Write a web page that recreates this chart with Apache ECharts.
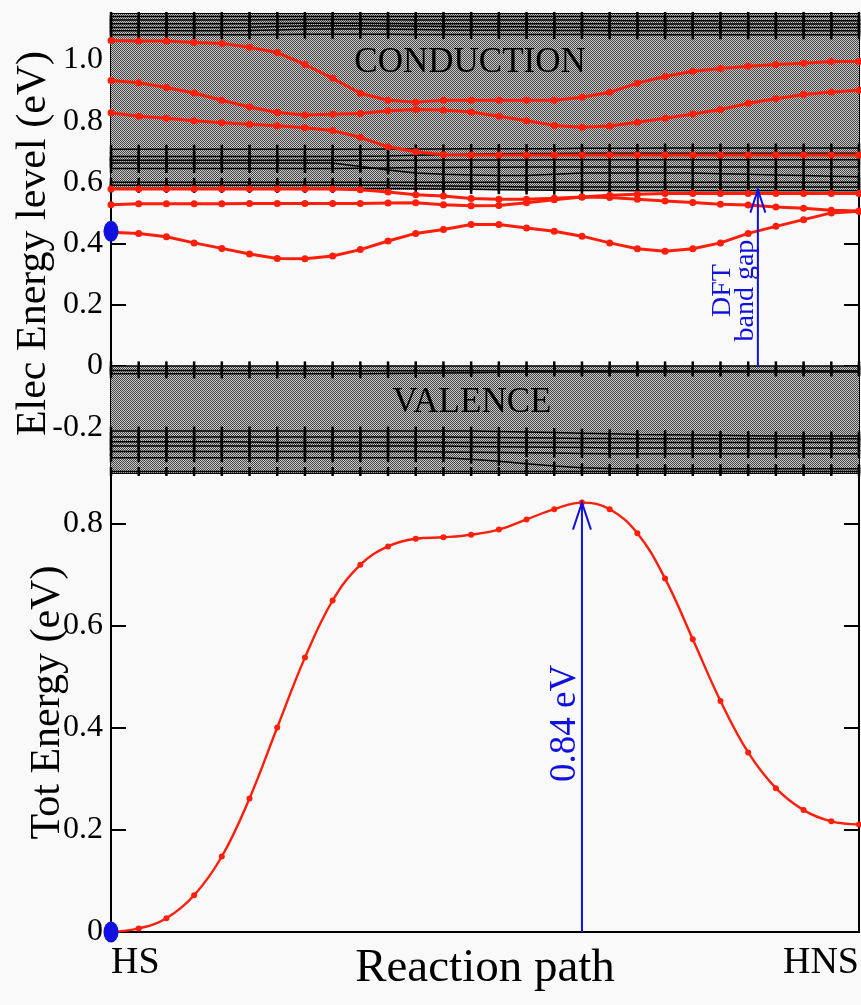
<!DOCTYPE html>
<html>
<head>
<meta charset="utf-8">
<script src="https://cdn.jsdelivr.net/npm/echarts@6/dist/echarts.min.js"></script>
<style>
html,body{margin:0;padding:0;background:#f9f9f9;}
#chart{width:861px;height:1005px;}
</style>
</head>
<body>
<div id="chart"></div>
<script>
// ---------------- data ----------------
const pathIndex = [0,1,2,3,4,5,6,7,8,9,10,11,12,13,14,15,16,17,18,19,20,21,22,23,24,25,26,27];
const pathEnds = ['HS', 'HNS'];
const elecTicks = [-0.2, 0, 0.2, 0.4, 0.6, 0.8, 1.0];
const totTicks = [0, 0.2, 0.4, 0.6, 0.8];

// red (tracked) levels, top panel
const conduction1 = [1.063,1.062,1.062,1.057,1.054,1.041,1.024,0.985,0.940,0.891,0.868,0.862,0.868,0.868,0.868,0.868,0.868,0.878,0.894,0.924,0.946,0.963,0.972,0.979,0.985,0.989,0.995,0.995];
const conduction2 = [0.933,0.925,0.910,0.892,0.868,0.846,0.828,0.820,0.822,0.825,0.834,0.838,0.836,0.830,0.816,0.801,0.786,0.780,0.784,0.796,0.809,0.823,0.838,0.858,0.873,0.887,0.895,0.901];
const conduction3 = [0.827,0.816,0.809,0.801,0.795,0.790,0.785,0.778,0.769,0.747,0.716,0.700,0.690,0.689,0.689,0.689,0.689,0.689,0.689,0.689,0.689,0.689,0.689,0.689,0.689,0.689,0.689,0.689];
const gapUpper = [0.578,0.578,0.578,0.578,0.578,0.578,0.578,0.578,0.578,0.576,0.568,0.559,0.555,0.547,0.545,0.545,0.548,0.552,0.550,0.545,0.539,0.534,0.528,0.526,0.519,0.515,0.509,0.506];
const gapMiddle = [0.527,0.530,0.530,0.530,0.530,0.531,0.531,0.531,0.531,0.531,0.532,0.533,0.527,0.523,0.524,0.533,0.543,0.552,0.558,0.561,0.563,0.563,0.563,0.563,0.563,0.563,0.563,0.563];
const gapLower = [0.437,0.433,0.422,0.402,0.384,0.366,0.351,0.350,0.359,0.380,0.408,0.433,0.446,0.462,0.462,0.451,0.440,0.424,0.402,0.383,0.375,0.383,0.402,0.433,0.456,0.478,0.500,0.505];

// black (band) levels, top panel
const cbTop1 = [1.142,1.142,1.142,1.142,1.142,1.142,1.142,1.142,1.142,1.142,1.142,1.142,1.142,1.142,1.142,1.142,1.142,1.142,1.142,1.142,1.142,1.142,1.142,1.142,1.142,1.142,1.142,1.142];
const cbTop2 = [1.130,1.130,1.130,1.130,1.130,1.130,1.131,1.132,1.132,1.132,1.131,1.130,1.130,1.130,1.130,1.130,1.130,1.130,1.129,1.128,1.128,1.128,1.128,1.128,1.128,1.128,1.128,1.128];
const cbTop3 = [1.118,1.118,1.118,1.118,1.118,1.118,1.119,1.120,1.120,1.120,1.119,1.118,1.118,1.118,1.118,1.118,1.118,1.118,1.118,1.117,1.117,1.117,1.117,1.117,1.117,1.117,1.117,1.117];
const cbTop4 = [1.106,1.106,1.106,1.106,1.106,1.107,1.109,1.111,1.112,1.112,1.111,1.110,1.109,1.108,1.108,1.108,1.107,1.107,1.106,1.106,1.106,1.106,1.106,1.106,1.106,1.106,1.106,1.106];
const cbTop5 = [1.095,1.095,1.095,1.095,1.095,1.096,1.098,1.100,1.101,1.101,1.100,1.099,1.098,1.097,1.097,1.097,1.096,1.096,1.095,1.095,1.095,1.095,1.095,1.095,1.095,1.095,1.095,1.095];
const cbTop6 = [1.082,1.082,1.082,1.082,1.082,1.082,1.083,1.084,1.084,1.084,1.084,1.083,1.083,1.083,1.083,1.083,1.083,1.083,1.082,1.082,1.082,1.082,1.082,1.082,1.082,1.082,1.082,1.082];
const cbLow1 = [0.708,0.708,0.708,0.708,0.708,0.708,0.708,0.708,0.708,0.708,0.709,0.709,0.709,0.710,0.710,0.710,0.710,0.711,0.711,0.711,0.712,0.712,0.712,0.712,0.712,0.712,0.712,0.712];
const cbLow2 = [0.684,0.684,0.684,0.684,0.684,0.684,0.684,0.684,0.684,0.685,0.686,0.688,0.690,0.692,0.693,0.694,0.694,0.695,0.695,0.695,0.695,0.695,0.695,0.695,0.695,0.695,0.695,0.695];
const cbLow3 = [0.672,0.672,0.672,0.672,0.672,0.672,0.672,0.672,0.672,0.672,0.672,0.672,0.673,0.673,0.673,0.673,0.674,0.674,0.674,0.674,0.674,0.674,0.674,0.674,0.674,0.674,0.674,0.674];
const cbLow4 = [0.663,0.663,0.663,0.663,0.663,0.663,0.663,0.663,0.663,0.652,0.640,0.630,0.626,0.624,0.622,0.622,0.626,0.630,0.630,0.630,0.630,0.630,0.628,0.626,0.624,0.622,0.620,0.618];
const cbLow5 = [0.645,0.645,0.645,0.645,0.645,0.645,0.645,0.645,0.645,0.646,0.647,0.648,0.648,0.649,0.649,0.650,0.650,0.650,0.650,0.650,0.650,0.650,0.650,0.650,0.650,0.650,0.650,0.650];
const cbLow6 = [0.600,0.600,0.600,0.600,0.600,0.600,0.600,0.600,0.600,0.600,0.600,0.600,0.600,0.600,0.600,0.600,0.600,0.600,0.600,0.600,0.600,0.600,0.600,0.600,0.600,0.600,0.600,0.600];
const cbLow7 = [0.590,0.590,0.590,0.590,0.590,0.590,0.590,0.590,0.590,0.590,0.590,0.589,0.588,0.587,0.586,0.585,0.585,0.585,0.585,0.585,0.585,0.585,0.585,0.585,0.585,0.585,0.585,0.585];
const cbLow8 = [0.580,0.580,0.580,0.580,0.580,0.580,0.580,0.580,0.580,0.580,0.580,0.579,0.578,0.577,0.576,0.575,0.574,0.573,0.573,0.572,0.572,0.572,0.572,0.572,0.572,0.572,0.572,0.572];
const vb1 = [0.000,0.000,0.000,0.000,0.000,0.000,0.000,0.000,0.000,0.000,0.000,0.000,0.000,0.000,0.000,0.000,0.000,0.000,0.000,0.000,0.000,0.000,0.000,0.000,0.000,0.000,0.000,0.000];
const vb2 = [-0.015,-0.015,-0.015,-0.015,-0.015,-0.015,-0.015,-0.015,-0.015,-0.016,-0.016,-0.016,-0.016,-0.016,-0.016,-0.016,-0.016,-0.016,-0.016,-0.016,-0.016,-0.016,-0.016,-0.016,-0.016,-0.016,-0.016,-0.016];
const vb3 = [-0.026,-0.026,-0.026,-0.026,-0.026,-0.026,-0.026,-0.026,-0.026,-0.026,-0.025,-0.024,-0.023,-0.022,-0.021,-0.020,-0.020,-0.020,-0.020,-0.020,-0.020,-0.020,-0.020,-0.020,-0.020,-0.020,-0.020,-0.020];
const vb4 = [-0.213,-0.213,-0.213,-0.213,-0.213,-0.213,-0.213,-0.213,-0.213,-0.213,-0.213,-0.213,-0.213,-0.213,-0.214,-0.216,-0.218,-0.220,-0.222,-0.224,-0.225,-0.226,-0.227,-0.228,-0.229,-0.229,-0.229,-0.229];
const vb5 = [-0.232,-0.232,-0.232,-0.232,-0.232,-0.232,-0.232,-0.232,-0.232,-0.232,-0.232,-0.232,-0.232,-0.233,-0.234,-0.235,-0.236,-0.237,-0.237,-0.238,-0.238,-0.238,-0.238,-0.238,-0.238,-0.238,-0.238,-0.238];
const vb6 = [-0.248,-0.248,-0.248,-0.248,-0.248,-0.249,-0.250,-0.250,-0.250,-0.250,-0.250,-0.250,-0.250,-0.250,-0.250,-0.250,-0.250,-0.250,-0.250,-0.250,-0.250,-0.250,-0.250,-0.250,-0.250,-0.250,-0.250,-0.250];
const vb7 = [-0.262,-0.262,-0.262,-0.262,-0.262,-0.262,-0.262,-0.262,-0.262,-0.262,-0.262,-0.262,-0.262,-0.263,-0.264,-0.265,-0.266,-0.267,-0.268,-0.268,-0.268,-0.268,-0.268,-0.268,-0.268,-0.268,-0.268,-0.268];
const vb8 = [-0.280,-0.280,-0.280,-0.280,-0.280,-0.280,-0.280,-0.280,-0.280,-0.280,-0.280,-0.280,-0.281,-0.282,-0.283,-0.284,-0.285,-0.286,-0.287,-0.287,-0.287,-0.287,-0.287,-0.287,-0.287,-0.287,-0.287,-0.287];
const vb9 = [-0.300,-0.300,-0.300,-0.300,-0.300,-0.300,-0.300,-0.300,-0.300,-0.300,-0.300,-0.300,-0.300,-0.305,-0.312,-0.320,-0.327,-0.333,-0.335,-0.336,-0.336,-0.336,-0.336,-0.336,-0.336,-0.336,-0.336,-0.336];
const vb10 = [-0.345,-0.345,-0.345,-0.345,-0.345,-0.345,-0.345,-0.345,-0.345,-0.345,-0.345,-0.345,-0.345,-0.345,-0.345,-0.345,-0.345,-0.345,-0.345,-0.345,-0.345,-0.345,-0.345,-0.345,-0.345,-0.345,-0.345,-0.345];

// band regions (eV)
const conductionBand = [0.575, 1.15];
const valenceBand = [-0.35, 0.0];

// total energy, bottom panel
const totalEnergy = [0.000,0.007,0.027,0.072,0.148,0.262,0.401,0.538,0.650,0.720,0.756,0.771,0.774,0.779,0.789,0.809,0.829,0.842,0.829,0.782,0.693,0.574,0.453,0.352,0.282,0.239,0.217,0.211];

// highlighted start points
const startLevel = [0, 0.44];
const startEnergy = [0, 0.0];

// arrows: [x, from, to]
const gapArrow = [23.35, 0.0, 0.576];
const barrierArrow = [17, 0.0, 0.842];
const barrierText = '0.84 eV';
const gapText = 'DFT\nband gap';

// ---------------- chart ----------------
const FONT = '"Liberation Serif", "DejaVu Serif", serif';
const RED = '#ff1e0a';
const BLUE = '#1010e0';

const pat = document.createElement('canvas');
pat.width = 2; pat.height = 2;
const pctx = pat.getContext('2d');
pctx.fillStyle = '#c6c6c6'; pctx.fillRect(0, 0, 2, 2);
pctx.fillStyle = '#484848'; pctx.fillRect(0, 0, 1, 1); pctx.fillRect(1, 1, 1, 1);

const zip = arr => arr.map((v, i) => [pathIndex[i], v]);

const blackLines = [cbTop1,cbTop2,cbTop3,cbTop4,cbTop5,cbTop6,cbLow1,cbLow2,cbLow3,cbLow4,cbLow5,cbLow6,cbLow7,cbLow8,vb1,vb2,vb3,vb4,vb5,vb6,vb7,vb8,vb9,vb10];
const redLines = [conduction1, conduction2, conduction3, gapUpper, gapMiddle, gapLower];

const series = [];

// shaded bands
series.push({
  type: 'line', xAxisIndex: 0, yAxisIndex: 0, data: [], silent: true, z: 1,
  markArea: {
    silent: true,
    itemStyle: { color: { image: pat, repeat: 'repeat' }, borderWidth: 0, opacity: 1 },
    data: [
      [{ yAxis: conductionBand[0] }, { yAxis: conductionBand[1] }],
      [{ yAxis: valenceBand[0] }, { yAxis: valenceBand[1] }]
    ]
  }
});

blackLines.forEach(arr => series.push({
  type: 'line', xAxisIndex: 0, yAxisIndex: 0, data: zip(arr), z: 2, silent: true,
  lineStyle: { color: '#000', width: 1.5 },
  itemStyle: { color: '#000' },
  symbol: 'rect', symbolSize: [2.5, 9], showSymbol: true
}));

redLines.forEach(arr => series.push({
  type: 'line', xAxisIndex: 0, yAxisIndex: 0, data: zip(arr), z: 5, silent: true,
  lineStyle: { color: RED, width: 3 },
  itemStyle: { color: RED },
  symbol: 'circle', symbolSize: 7, showSymbol: true
}));

series.push({
  type: 'scatter', xAxisIndex: 0, yAxisIndex: 0, data: [startLevel], z: 10, clip: false,
  symbol: 'circle', symbolSize: [15, 21], itemStyle: { color: BLUE, opacity: 1 }
});

series.push({
  type: 'line', xAxisIndex: 1, yAxisIndex: 2, data: zip(totalEnergy), z: 5, smooth: 0.4,
  lineStyle: { color: RED, width: 2.4 }, itemStyle: { color: RED },
  symbol: 'circle', symbolSize: 6, showSymbol: true
});

series.push({
  type: 'scatter', xAxisIndex: 1, yAxisIndex: 2, data: [startEnergy], z: 10, clip: false,
  symbol: 'circle', symbolSize: [15, 21], itemStyle: { color: BLUE, opacity: 1 }
});

function arrowSeries(xi, yi, arrow, headLen, headHalf, text, textOffset, fontSize, lineHeight, textY) {
  return {
    type: 'custom', xAxisIndex: xi, yAxisIndex: yi, z: 12, silent: true, clip: false,
    data: [arrow],
    renderItem: (params, api) => {
      const x = api.value(0);
      const p0 = api.coord([x, api.value(1)]);
      const p1 = api.coord([x, api.value(2)]);
      const pt = api.coord([x, textY]);
      return {
        type: 'group',
        children: [
          { type: 'line', shape: { x1: p0[0], y1: p0[1], x2: p1[0], y2: p1[1] }, style: { stroke: BLUE, lineWidth: 2 } },
          { type: 'polyline', shape: { points: [[p1[0] - headHalf, p1[1] + headLen], [p1[0], p1[1]], [p1[0] + headHalf, p1[1] + headLen]] }, style: { stroke: BLUE, lineWidth: 2, fill: null } },
          { type: 'text', x: p1[0] - textOffset, y: pt[1], rotation: Math.PI / 2,
            style: { text: text, fill: BLUE, font: fontSize + 'px ' + FONT, align: 'center', verticalAlign: 'middle', lineHeight: lineHeight } }
        ]
      };
    }
  };
}

series.push(arrowSeries(0, 0, gapArrow, 23, 7.5, gapText, 24, 28, 23, 0.246));
series.push(arrowSeries(1, 2, barrierArrow, 27, 9, barrierText, 17, 37, 37, 0.409));

function labelSeries(xi, yi, pos, text, fontSize) {
  return {
    type: 'custom', xAxisIndex: xi, yAxisIndex: yi, z: 11, silent: true, clip: false,
    data: [pos],
    renderItem: (params, api) => {
      const c = api.coord([api.value(0), api.value(1)]);
      return { type: 'text', x: c[0], y: c[1],
        style: { text: text, fill: '#000', font: fontSize + 'px ' + FONT, align: 'center', verticalAlign: 'middle' } };
    }
  };
}
series.push(labelSeries(0, 0, [12.96, 0.99], 'CONDUCTION', 35));
series.push(labelSeries(0, 0, [13.03, -0.121], 'VALENCE', 35));

const fmt = v => (Math.abs(v) < 1e-9 ? '0' : v.toFixed(1));

function yAxis(grid, min, max, ticks, right, name, gap) {
  const ax = {
    gridIndex: grid, type: 'value', min: min, max: max, position: right ? 'right' : 'left',
    axisLine: { show: true, lineStyle: { color: '#000', width: 2 } },
    axisTick: { show: true, inside: true, length: 15, customValues: ticks, lineStyle: { color: '#000', width: 2 } },
    axisLabel: right ? { show: false } : { show: true, customValues: ticks, formatter: fmt, color: '#000', fontFamily: FONT, fontSize: 32, margin: 8 },
    splitLine: { show: false }
  };
  if (name) {
    ax.name = name; ax.nameLocation = 'middle'; ax.nameGap = gap; ax.nameMoveOverlap = false;
    ax.nameTextStyle = { color: '#000', fontFamily: FONT, fontSize: 42 };
  }
  return ax;
}

const option = {
  backgroundColor: '#f9f9f9',
  animation: false,
  grid: [
    { left: 111, top: 14, width: 748, height: 459, show: true, borderColor: '#000', borderWidth: 2, backgroundColor: '#f9f9f9', containLabel: false, outerBoundsMode: 'none' },
    { left: 111, top: 473, width: 748, height: 459, show: true, borderColor: '#000', borderWidth: 2, backgroundColor: '#f9f9f9', containLabel: false, outerBoundsMode: 'none' }
  ],
  xAxis: [
    { gridIndex: 0, type: 'value', min: 0, max: 27, axisLine: { show: false }, axisTick: { show: false }, axisLabel: { show: false }, splitLine: { show: false } },
    { gridIndex: 1, type: 'value', min: 0, max: 27,
      axisLine: { show: true, lineStyle: { color: '#000', width: 2 } }, axisTick: { show: false }, splitLine: { show: false },
      axisLabel: { show: true, customValues: [0, 27], formatter: v => (v === 0 ? pathEnds[0] : pathEnds[1]),
        alignMinLabel: 'left', alignMaxLabel: 'right', color: '#000', fontFamily: FONT, fontSize: 38, margin: 12 },
      name: 'Reaction path', nameLocation: 'middle', nameGap: 13, nameMoveOverlap: false,
      nameTextStyle: { color: '#000', fontFamily: FONT, fontSize: 47, verticalAlign: 'top' } }
  ],
  yAxis: [
    yAxis(0, -0.35, 1.15, elecTicks, false, 'Elec Energy level (eV)', 56),
    yAxis(0, -0.35, 1.15, elecTicks, true),
    yAxis(1, 0, 0.9, totTicks, false, 'Tot Energy (eV)', 42),
    yAxis(1, 0, 0.9, totTicks, true)
  ],
  series: series
};

const chart = echarts.init(document.getElementById('chart'), null, { renderer: 'canvas' });
chart.setOption(option);
</script>
</body>
</html>
